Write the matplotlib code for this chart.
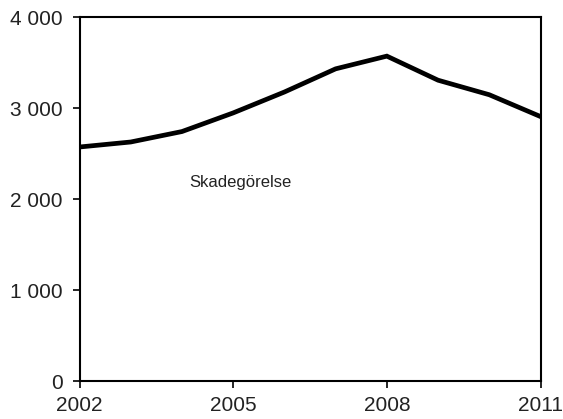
import matplotlib
matplotlib.use("Agg")
import matplotlib.pyplot as plt
from matplotlib.ticker import FuncFormatter

# data
years = [2002, 2003, 2004, 2005, 2006, 2007, 2008, 2009, 2010, 2011]
skadegorelse = [2575, 2630, 2745, 2950, 3180, 3435, 3575, 3310, 3150, 2910]
x_ticks = [2002, 2005, 2008, 2011]
y_ticks = [0, 1000, 2000, 3000, 4000]

plt.rcParams['font.family'] = ['Liberation Sans', 'DejaVu Sans']

fig = plt.figure(figsize=(5.63, 4.19), dpi=100)
ax = fig.add_axes([79.5 / 563, 1 - 381 / 419, 461 / 563, 363.5 / 419])

ax.plot(years, skadegorelse, color='black', linewidth=3.4, solid_joinstyle='miter')

ax.set_xlim(2002, 2011)
ax.set_ylim(0, 4000)
ax.set_xticks(x_ticks)
ax.set_yticks(y_ticks)
ax.yaxis.set_major_formatter(FuncFormatter(lambda v, p: f"{int(v):,}".replace(",", " ")))

for s in ax.spines.values():
    s.set_linewidth(1.5)
    s.set_color('black')
ax.tick_params(direction='out', length=5, width=1.2, labelsize=15, colors='black',
               labelcolor='#222222')
ax.tick_params(axis='y', pad=7)
ax.tick_params(axis='x', pad=6)

ax.text(2004.15, 2180, "Skadegörelse", fontsize=12, va='center', ha='left', color='#222222')

fig.savefig("out.png", dpi=100)
